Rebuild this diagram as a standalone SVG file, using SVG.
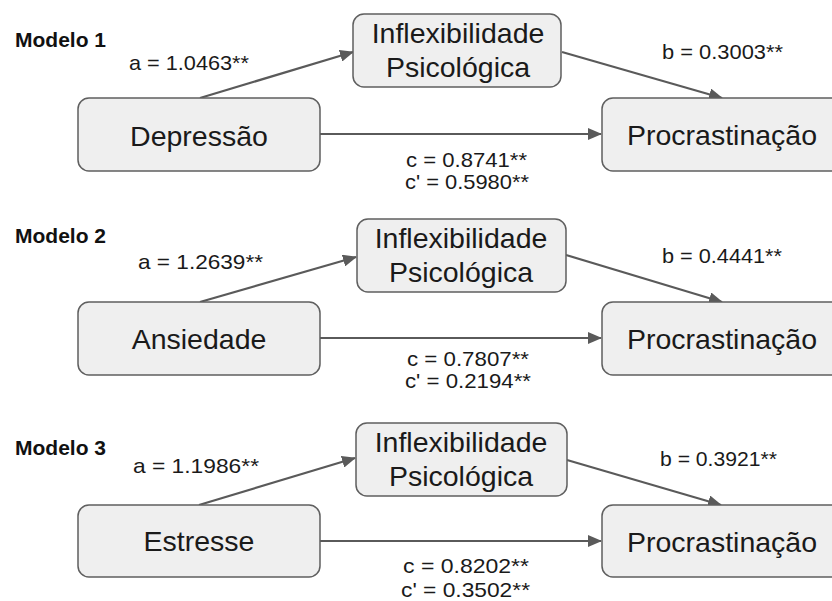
<svg xmlns="http://www.w3.org/2000/svg" width="832" height="601" viewBox="0 0 832 601">
<style>
.box{fill:#efefef;stroke:#5f5f5f;stroke-width:1.5}
.big{font-family:"Liberation Sans",Arial,sans-serif;font-size:28.5px;fill:#1a1a1a;text-anchor:middle}
.lbl{font-family:"Liberation Sans",Arial,sans-serif;font-size:21px;fill:#1a1a1a}
.ttl{font-family:"Liberation Sans",Arial,sans-serif;font-size:21px;font-weight:bold;fill:#111}
.edge{stroke:#5a5a5a;stroke-width:2.2;fill:none;marker-end:url(#ah)}
</style>
<defs>
<marker id="ah" markerUnits="userSpaceOnUse" markerWidth="14" markerHeight="12" refX="13" refY="6" orient="auto">
<path d="M0,0 L14,6 L0,12 z" fill="#5a5a5a"/>
</marker>
</defs>
<rect width="832" height="601" fill="#ffffff"/>
<g id="connectors">
<line class="edge" x1="200" y1="98" x2="353" y2="52"/>
<line class="edge" x1="562" y1="52" x2="722" y2="98"/>
<line class="edge" x1="320" y1="134" x2="601" y2="134"/>
<line class="edge" x1="200" y1="302" x2="356" y2="257"/>
<line class="edge" x1="566" y1="255" x2="722" y2="302"/>
<line class="edge" x1="320" y1="338" x2="601" y2="338"/>
<line class="edge" x1="199" y1="505" x2="355" y2="458"/>
<line class="edge" x1="567" y1="460" x2="721" y2="505"/>
<line class="edge" x1="320" y1="541" x2="601" y2="541"/>
</g>
<g id="labels">
<text class="ttl" x="15" y="47">Modelo 1</text>
<text class="lbl" x="129" y="70" textLength="120" lengthAdjust="spacingAndGlyphs">a = 1.0463**</text>
<text class="lbl" x="662" y="59" textLength="121" lengthAdjust="spacingAndGlyphs">b = 0.3003**</text>
<text class="lbl" x="406" y="167" textLength="121" lengthAdjust="spacingAndGlyphs">c = 0.8741**</text>
<text class="lbl" x="405" y="189" textLength="124" lengthAdjust="spacingAndGlyphs">c' = 0.5980**</text>
<text class="ttl" x="15" y="243">Modelo 2</text>
<text class="lbl" x="138" y="269" textLength="125" lengthAdjust="spacingAndGlyphs">a = 1.2639**</text>
<text class="lbl" x="662" y="263" textLength="120" lengthAdjust="spacingAndGlyphs">b = 0.4441**</text>
<text class="lbl" x="407" y="366" textLength="122" lengthAdjust="spacingAndGlyphs">c = 0.7807**</text>
<text class="lbl" x="405" y="388" textLength="126" lengthAdjust="spacingAndGlyphs">c' = 0.2194**</text>
<text class="ttl" x="15" y="455">Modelo 3</text>
<text class="lbl" x="133" y="473" textLength="126" lengthAdjust="spacingAndGlyphs">a = 1.1986**</text>
<text class="lbl" x="660" y="466" textLength="117" lengthAdjust="spacingAndGlyphs">b = 0.3921**</text>
<text class="lbl" x="403" y="573" textLength="126" lengthAdjust="spacingAndGlyphs">c = 0.8202**</text>
<text class="lbl" x="401" y="597" textLength="129" lengthAdjust="spacingAndGlyphs">c' = 0.3502**</text>
</g>
<g id="m1-x">
<rect class="box" x="78" y="98" width="242" height="73" rx="11"/>
<text class="big" x="199" y="146">Depressão</text>
</g>
<g id="m1-m">
<rect class="box" x="353" y="14" width="208" height="73" rx="11"/>
<text class="big" x="458" y="43">Inflexibilidade</text>
<text class="big" x="458" y="77">Psicológica</text>
</g>
<g id="m1-y">
<rect class="box" x="602" y="98" width="242" height="73" rx="11"/>
<text class="big" x="722" y="145">Procrastinação</text>
</g>
<g id="m2-x">
<rect class="box" x="78" y="302" width="242" height="73" rx="11"/>
<text class="big" x="199" y="349">Ansiedade</text>
</g>
<g id="m2-m">
<rect class="box" x="357" y="219" width="209" height="73" rx="11"/>
<text class="big" x="461" y="248">Inflexibilidade</text>
<text class="big" x="461" y="282">Psicológica</text>
</g>
<g id="m2-y">
<rect class="box" x="602" y="302" width="242" height="73" rx="11"/>
<text class="big" x="722" y="349">Procrastinação</text>
</g>
<g id="m3-x">
<rect class="box" x="78" y="505" width="242" height="72" rx="11"/>
<text class="big" x="199" y="551">Estresse</text>
</g>
<g id="m3-m">
<rect class="box" x="356" y="423" width="211" height="73" rx="11"/>
<text class="big" x="461" y="452">Inflexibilidade</text>
<text class="big" x="461" y="486">Psicológica</text>
</g>
<g id="m3-y">
<rect class="box" x="602" y="505" width="242" height="72" rx="11"/>
<text class="big" x="722" y="552">Procrastinação</text>
</g>
</svg>
